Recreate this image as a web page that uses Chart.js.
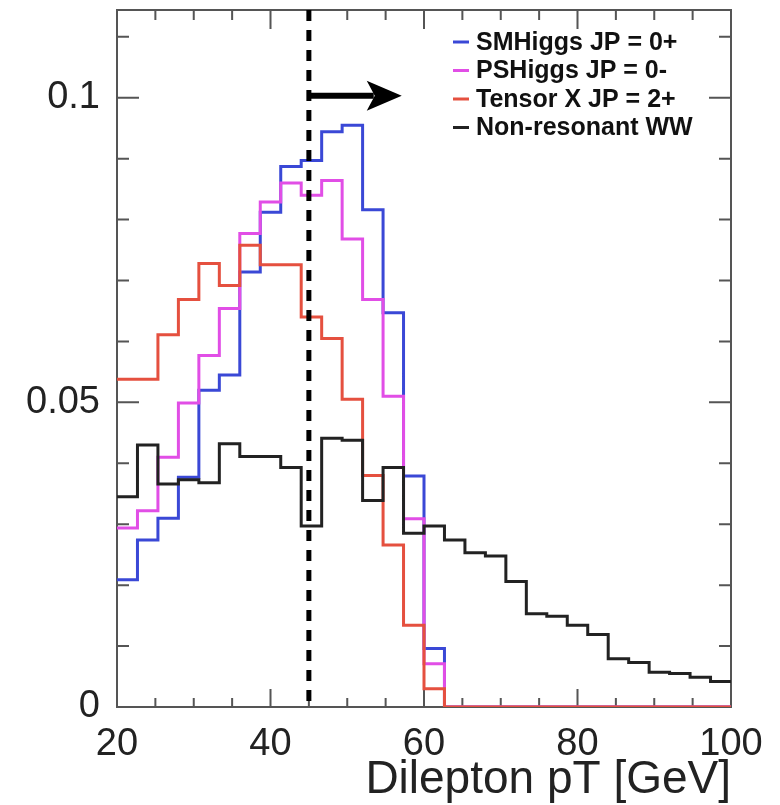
<!DOCTYPE html>
<html>
<head>
<meta charset="utf-8">
<script src="https://cdn.jsdelivr.net/npm/chart.js@4.4.0/dist/chart.umd.min.js"></script>
<style>
  html, body { margin: 0; padding: 0; background: #fff; }
</style>
</head>
<body>
<canvas id="pt-chart" width="780" height="805"></canvas>
<script>
// 30 bins between 20 and 100 GeV
const xMin = 20;
const xMax = 100;
const nBins = 30;
const binEdges = [];
for (let i = 0; i <= nBins; i++) binEdges.push(xMin + i * (xMax - xMin) / nBins);

// bin contents (normalised)
const smHiggs = [0.0209, 0.0274, 0.0310, 0.0377, 0.0520, 0.0545, 0.0714, 0.0812, 0.0887, 0.0897,
                 0.0944, 0.0955, 0.0816, 0.0647, 0.0379, 0.0096, 0, 0, 0, 0,
                 0, 0, 0, 0, 0, 0, 0, 0, 0, 0];
const psHiggs = [0.0294, 0.0322, 0.0410, 0.0499, 0.0577, 0.0654, 0.0777, 0.0829, 0.0860, 0.0840,
                 0.0864, 0.0768, 0.0669, 0.0510, 0.0309, 0.0071, 0, 0, 0, 0,
                 0, 0, 0, 0, 0, 0, 0, 0, 0, 0];
const tensorX = [0.0538, 0.0538, 0.0611, 0.0669, 0.0728, 0.0692, 0.0758, 0.0726, 0.0726, 0.0640,
                 0.0605, 0.0505, 0.0380, 0.0266, 0.0134, 0.0030, 0, 0, 0, 0,
                 0, 0, 0, 0, 0, 0, 0, 0, 0, 0];
const nonResWW = [0.0345, 0.0430, 0.0366, 0.0373, 0.0368, 0.0432, 0.0411, 0.0411, 0.0393, 0.0297,
                  0.0441, 0.0438, 0.0339, 0.0393, 0.0285, 0.0297, 0.0274, 0.0253, 0.0248, 0.0206,
                  0.0153, 0.0149, 0.0134, 0.0119, 0.0079, 0.0073, 0.0057, 0.0055, 0.0049, 0.0042];

const legendLabels = ['SMHiggs JP = 0+', 'PSHiggs JP = 0-', 'Tensor X JP = 2+', 'Non-resonant WW'];
const seriesColors = ['#3a48d6', '#e14ee6', '#e5503f', '#222222'];

const xMajorTicks = [20, 40, 60, 80, 100];
const xMinorTicks = [25, 30, 35, 45, 50, 55, 65, 70, 75, 85, 90, 95];
const yMajorTicks = [0, 0.05, 0.1];
const yTickLabels = ['0', '0.05', '0.1'];
const yMinorTicks = [0.01, 0.02, 0.03, 0.04, 0.06, 0.07, 0.08, 0.09, 0.11];
const yMax = 0.1144;

// selection cut and arrow
const cutValue = 45;
const arrowEnd = 57.1;
const arrowLevel = 0.1;

function toSteps(values) {
    // one point per bin edge, last edge repeats the last bin
    return binEdges.map((edge, i) => ({ x: edge, y: values[Math.min(i, values.length - 1)] }));
}

const allSeries = [smHiggs, psHiggs, tensorX, nonResWW];
const drawOrder = [3, 2, 1, 0]; // black on top, blue at the bottom

const framePlugin = {
    id: 'framePlugin',
    beforeDatasetsDraw(chart) {
        const { ctx, chartArea: a, scales: { x, y } } = chart;
        ctx.save();
        ctx.strokeStyle = '#555';
        ctx.lineWidth = 2;
        ctx.strokeRect(a.left, a.top, a.right - a.left, a.bottom - a.top);
        ctx.beginPath();
        xMajorTicks.forEach(v => {
            const px = x.getPixelForValue(v);
            ctx.moveTo(px, a.bottom); ctx.lineTo(px, a.bottom - 18);
            ctx.moveTo(px, a.top); ctx.lineTo(px, a.top + 19);
        });
        xMinorTicks.forEach(v => {
            const px = x.getPixelForValue(v);
            ctx.moveTo(px, a.bottom); ctx.lineTo(px, a.bottom - 9);
            ctx.moveTo(px, a.top); ctx.lineTo(px, a.top + 10);
        });
        yMajorTicks.forEach(v => {
            const py = y.getPixelForValue(v);
            ctx.moveTo(a.left, py); ctx.lineTo(a.left + 22, py);
            ctx.moveTo(a.right, py); ctx.lineTo(a.right - 22, py);
        });
        yMinorTicks.forEach(v => {
            const py = y.getPixelForValue(v);
            ctx.moveTo(a.left, py); ctx.lineTo(a.left + 12, py);
            ctx.moveTo(a.right, py); ctx.lineTo(a.right - 12, py);
        });
        ctx.stroke();
        ctx.restore();
    },
    afterDatasetsDraw(chart) {
        const { ctx, chartArea: a, scales: { x, y } } = chart;
        ctx.save();

        // dashed cut line
        const cx = x.getPixelForValue(cutValue);
        ctx.strokeStyle = '#000';
        ctx.lineWidth = 5;
        ctx.setLineDash([11, 9]);
        ctx.beginPath();
        ctx.moveTo(cx, a.top);
        ctx.lineTo(cx, y.getPixelForValue(0) - 6);
        ctx.stroke();
        ctx.setLineDash([]);

        // arrow
        const ay = y.getPixelForValue(arrowLevel) - 2;
        const tip = x.getPixelForValue(arrowEnd);
        ctx.lineWidth = 6;
        ctx.beginPath();
        ctx.moveTo(cx, ay);
        ctx.lineTo(tip - 28, ay);
        ctx.stroke();
        ctx.fillStyle = '#000';
        ctx.beginPath();
        ctx.moveTo(tip, ay);
        ctx.lineTo(tip - 35, ay - 15);
        ctx.lineTo(tip - 27, ay);
        ctx.lineTo(tip - 35, ay + 15);
        ctx.closePath();
        ctx.fill();

        // legend
        const lx = a.right - 278;
        const rowY = [42, 70.5, 99, 127.5];
        ctx.font = 'bold 25px "Liberation Sans", Arial, sans-serif';
        ctx.textBaseline = 'middle';
        ctx.textAlign = 'left';
        legendLabels.forEach((label, i) => {
            ctx.strokeStyle = seriesColors[i];
            ctx.lineWidth = 3;
            ctx.beginPath();
            ctx.moveTo(lx, rowY[i]);
            ctx.lineTo(lx + 16, rowY[i]);
            ctx.stroke();
            ctx.fillStyle = '#111';
            ctx.fillText(label, lx + 23, rowY[i] + 1);
        });
        ctx.restore();
    }
};

new Chart(document.getElementById('pt-chart'), {
    type: 'line',
    data: {
        datasets: allSeries.map((vals, i) => ({
            label: legendLabels[i],
            data: toSteps(vals),
            borderColor: seriesColors[i],
            borderWidth: 3,
            stepped: 'before',
            pointRadius: 0,
            fill: false,
            order: drawOrder[i]
        }))
    },
    options: {
        responsive: false,
        animation: false,
        layout: { padding: { top: 10, right: 49, left: 0, bottom: 0 } },
        plugins: { legend: { display: false }, tooltip: { enabled: false } },
        scales: {
            x: {
                type: 'linear',
                min: xMin,
                max: xMax,
                grid: { display: false },
                border: { display: false },
                afterBuildTicks: s => { s.ticks = xMajorTicks.map(v => ({ value: v })); },
                afterFit: s => { s.height = 98; },
                ticks: {
                    autoSkip: false,
                    maxRotation: 0,
                    padding: 7,
                    color: '#222',
                    font: { family: '"Liberation Sans", Arial, sans-serif', size: 38 },
                    callback: v => String(v)
                },
                title: {
                    display: true,
                    text: 'Dilepton pT [GeV]',
                    align: 'end',
                    color: '#222',
                    padding: { top: 0, bottom: 2 },
                    font: { family: '"Liberation Sans", Arial, sans-serif', size: 46, lineHeight: 1 }
                }
            },
            y: {
                min: 0,
                max: yMax,
                grid: { display: false },
                border: { display: false },
                afterBuildTicks: s => { s.ticks = yMajorTicks.map(v => ({ value: v })); },
                afterFit: s => { s.width = 117; s.paddingTop = 0; s.paddingBottom = 0; },
                ticks: {
                    autoSkip: false,
                    padding: 9,
                    color: '#222',
                    font: { family: '"Liberation Sans", Arial, sans-serif', size: 38 },
                    callback: (v, i) => yTickLabels[i]
                }
            }
        }
    },
    plugins: [framePlugin]
});
</script>
</body>
</html>
